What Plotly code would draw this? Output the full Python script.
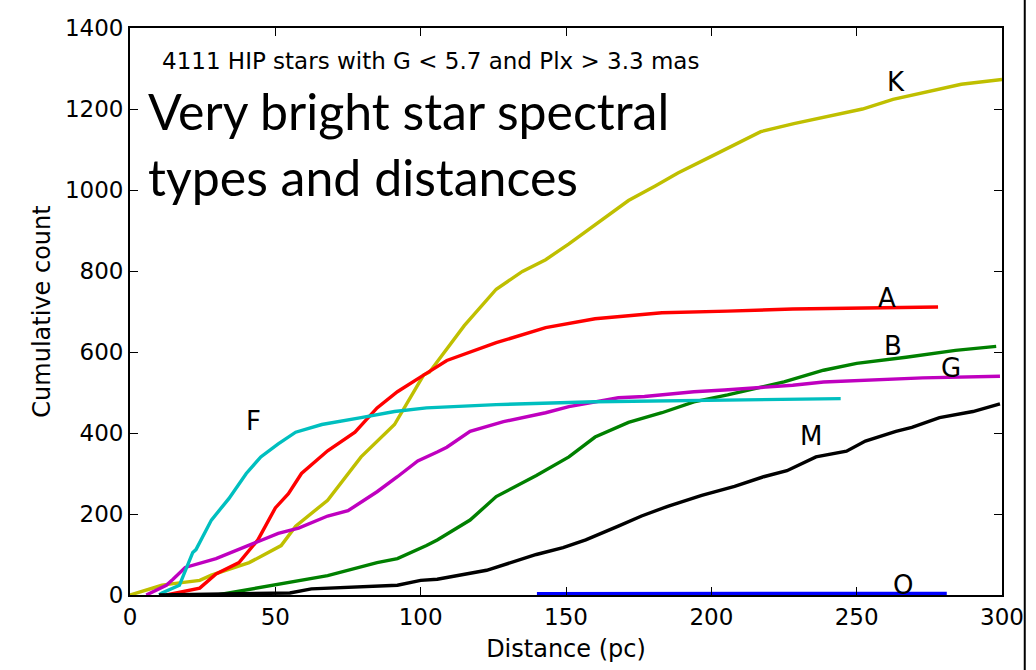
import plotly.graph_objects as go

# Distance (pc) / cumulative count
K_d = [0, 3.4, 6.8, 11, 13.6, 24, 28, 41, 45, 52, 57, 68, 79.5, 91, 101, 103, 115, 118, 126, 135, 143, 151, 160, 171.5, 180.7, 188.5, 200, 214.8, 217, 228.4, 252, 262.5, 273, 286, 300]
K_n = [0, 7, 15, 24, 27, 36, 49, 80, 95, 122, 170, 234, 341, 421, 543, 550, 665, 689, 755, 799, 828, 867, 915, 974, 1010, 1042, 1083, 1135, 1144, 1164, 1200, 1224, 1241, 1261, 1273]

A_d = [12.5, 22.7, 24, 29.6, 37.5, 44, 50, 54.5, 59, 68, 77.4, 85, 92, 101, 109, 126, 143, 160, 183, 205.6, 228, 278]
A_n = [0, 15, 17, 52, 80, 136, 215, 250, 300, 356, 402, 462, 502, 543, 579, 623, 660, 682, 697, 701, 706, 711]

B_d = [30, 34, 51, 68, 85, 92, 102, 105.7, 117, 126, 139.8, 151, 160, 171.5, 183, 194, 205.6, 225, 238.6, 250, 267, 284, 298]
B_n = [0, 5, 25, 48, 80, 90, 122, 136, 185, 243, 295, 341, 390, 426, 450, 477, 494, 526, 555, 572, 587, 604, 614]

G_d = [5.6, 12.5, 14.8, 19, 29.6, 34, 41, 51, 58, 68, 75, 85, 92, 99, 105.7, 109, 117, 128.5, 143, 151, 168, 177, 194, 204.5, 228, 238.6, 272.7, 299.3]
G_n = [0, 24, 39, 68, 90, 103, 122, 152, 165, 195, 208, 255, 292, 331, 353, 365, 404, 428, 450, 465, 487, 490, 502, 506, 518, 526, 536, 540]

F_d = [10, 11, 17, 20.5, 21.6, 22.7, 28, 34, 40, 45, 51, 57, 66, 79.5, 91, 102, 126, 160, 228, 244.5]
F_n = [0, 5, 24, 88, 105, 112, 185, 238, 300, 341, 373, 402, 421, 438, 453, 462, 470, 477, 484, 485]

M_d = [10, 40, 55, 62.4, 69, 92, 100, 105.7, 122.7, 139.8, 149, 156.8, 168, 176, 185, 196.7, 208, 218, 226, 236, 246.5, 253, 263.5, 269, 278.5, 290, 299.3]
M_n = [0, 2, 5, 15, 17, 24, 36, 39, 61, 100, 117, 136, 170, 195, 219, 246, 268, 292, 307, 341, 355, 380, 404, 414, 438, 453, 472]

O_d = [140, 281]
O_n = [3, 4]

series = [
    ("K", K_d, K_n, "#bfbf00"),
    ("A", A_d, A_n, "#ff0000"),
    ("B", B_d, B_n, "#008000"),
    ("G", G_d, G_n, "#bf00bf"),
    ("F", F_d, F_n, "#00bfbf"),
    ("M", M_d, M_n, "#000000"),
    ("O", O_d, O_n, "#0000ff"),
]

label_names = ["K", "A", "B", "G", "M", "F", "O"]
label_x = [263.5, 260.6, 262.5, 282.3, 234.2, 42.6, 265.9]
label_y = [1266, 734, 616, 560, 392, 429, 24]

x_ticks = [0, 50, 100, 150, 200, 250, 300]
y_ticks = [0, 200, 400, 600, 800, 1000, 1200, 1400]

subtitle = "4111 HIP stars with G < 5.7 and Plx > 3.3 mas"
title_lines = ["Very bright star spectral", "types and distances"]

fig = go.Figure()
for name, d, n, c in series:
    fig.add_trace(go.Scatter(x=d, y=n, mode="lines", name=name,
                             line=dict(color=c, width=3.4), showlegend=False))

for t, x, y in zip(label_names, label_x, label_y):
    fig.add_annotation(x=x, y=y, text=t, showarrow=False,
                       font=dict(family="DejaVu Sans", size=26, color="black"))

fig.add_annotation(xref="paper", yref="paper", x=0.034, y=0.942, xanchor="left", yanchor="middle",
                   text=subtitle, showarrow=False,
                   font=dict(family="DejaVu Sans", size=23, color="black"))
fig.add_annotation(xref="paper", yref="paper", x=0.018, y=0.853, xanchor="left", yanchor="middle",
                   text=title_lines[0], showarrow=False,
                   font=dict(family="Lato", size=50, color="black"))
fig.add_annotation(xref="paper", yref="paper", x=0.018, y=0.737, xanchor="left", yanchor="middle",
                   text=title_lines[1], showarrow=False,
                   font=dict(family="Lato", size=50, color="black"))

fig.add_shape(type="line", xref="paper", yref="paper", x0=1.0261, x1=1.0261, y0=-0.2, y1=1.1,
              line=dict(color="black", width=2))

axis_common = dict(showgrid=False, zeroline=False, showline=True, linecolor="black", linewidth=1.8,
                   mirror="ticks", ticks="inside", ticklen=8, tickwidth=1, tickcolor="black",
                   tickfont=dict(family="DejaVu Sans", size=23, color="black"))

fig.update_layout(
    width=1036, height=670,
    margin=dict(l=130, r=26, t=28, b=67),
    paper_bgcolor="white", plot_bgcolor="white",
    xaxis=dict(range=[0, 300], tickvals=x_ticks, ticktext=[str(v) for v in x_ticks],
               title=dict(text="Distance (pc)", font=dict(family="DejaVu Sans", size=24, color="black"), standoff=12),
               **axis_common),
    yaxis=dict(range=[0, 1400], tickvals=y_ticks, ticktext=[str(v) for v in y_ticks],
               title=dict(text="Cumulative count", font=dict(family="DejaVu Sans", size=24, color="black"), standoff=8),
               **axis_common),
)

fig.write_html("out.html", config={"displayModeBar": False},
               post_script="document.body.style.margin='0';document.body.style.overflow='hidden';")
